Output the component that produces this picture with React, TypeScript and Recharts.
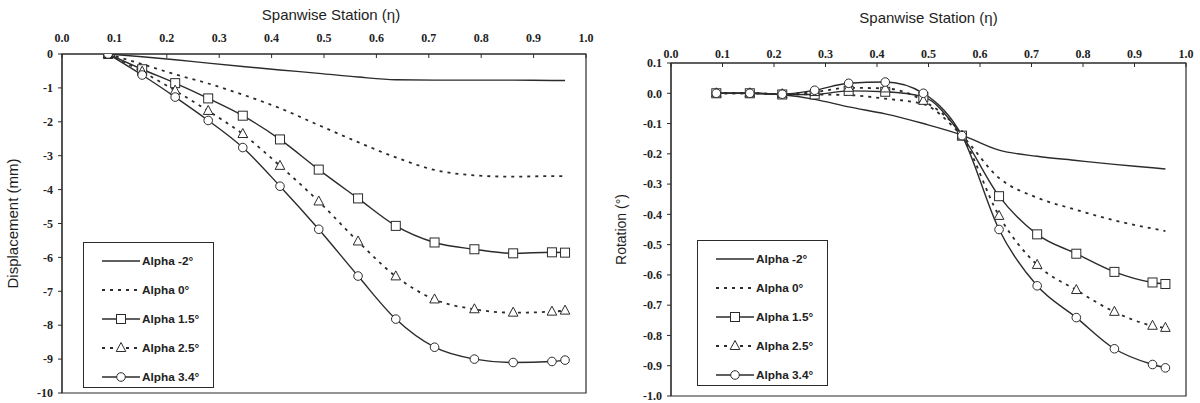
import React from 'react';
import { LineChart, Line, XAxis, YAxis, Legend, Label, ReferenceArea } from 'recharts';

// spanwise stations (eta) where the deflections were measured
const stations = [0.088, 0.153, 0.216, 0.279, 0.345, 0.416, 0.49, 0.565, 0.637, 0.711, 0.787, 0.861, 0.935, 0.96];

const seriesNames = ['Alpha -2°', 'Alpha 0°', 'Alpha 1.5°', 'Alpha 2.5°', 'Alpha 3.4°'];

// displacement (mm)
const dispAlphaM2 = [0, -0.08, -0.17, -0.27, -0.37, -0.47, -0.57, -0.68, -0.76, -0.77, -0.77, -0.77, -0.78, -0.78];
const dispAlpha0 = [0, -0.3, -0.6, -0.87, -1.2, -1.6, -2.1, -2.6, -3.05, -3.42, -3.58, -3.62, -3.6, -3.6];
const dispAlpha15 = [0, -0.45, -0.86, -1.31, -1.82, -2.52, -3.41, -4.26, -5.07, -5.56, -5.76, -5.88, -5.85, -5.86];
const dispAlpha25 = [0, -0.52, -1.08, -1.68, -2.36, -3.3, -4.35, -5.53, -6.56, -7.24, -7.53, -7.63, -7.6, -7.57];
const dispAlpha34 = [0, -0.62, -1.27, -1.96, -2.76, -3.9, -5.17, -6.55, -7.82, -8.65, -9.0, -9.1, -9.07, -9.03];

// rotation (deg)
const rotAlphaM2 = [0, 0, -0.005, -0.02, -0.045, -0.068, -0.1, -0.138, -0.188, -0.208, -0.222, -0.235, -0.246, -0.25];
const rotAlpha0 = [0, 0, -0.003, -0.004, -0.006, -0.018, -0.036, -0.14, -0.28, -0.345, -0.385, -0.42, -0.447, -0.455];
const rotAlpha15 = [0, 0, -0.004, -0.004, 0.008, 0.005, -0.012, -0.14, -0.34, -0.466, -0.53, -0.59, -0.625, -0.63];
const rotAlpha25 = [0, 0, -0.003, 0.004, 0.018, 0.016, -0.025, -0.14, -0.405, -0.567, -0.65, -0.722, -0.768, -0.775];
const rotAlpha34 = [0, 0, -0.003, 0.01, 0.033, 0.037, 0.0, -0.14, -0.45, -0.636, -0.741, -0.844, -0.896, -0.907];

const etaTicks = [0, 0.1, 0.2, 0.3, 0.4, 0.5, 0.6, 0.7, 0.8, 0.9, 1.0];
const dispTicks = [0, -1, -2, -3, -4, -5, -6, -7, -8, -9, -10];
const rotTicks = [0.1, 0, -0.1, -0.2, -0.3, -0.4, -0.5, -0.6, -0.7, -0.8, -0.9, -1.0];

const INK = '#2b2b2b';
const keys = ['m2', 'a0', 'a15', 'a25', 'a34'];
const dashes = [undefined, '3 5', undefined, '3 5', undefined];
const markers = ['none', 'none', 'square', 'triangle', 'circle'];

const buildRows = (cols: number[][]) =>
  stations.map((eta, i) => {
    const row: any = { eta };
    keys.forEach((k, j) => (row[k] = cols[j][i]));
    return row;
  });

const dispData = buildRows([dispAlphaM2, dispAlpha0, dispAlpha15, dispAlpha25, dispAlpha34]);
const rotData = buildRows([rotAlphaM2, rotAlpha0, rotAlpha15, rotAlpha25, rotAlpha34]);

function marker(kind: string, cx: number, cy: number, key?: string) {
  if (kind === 'square')
    return <rect key={key} x={cx - 4.5} y={cy - 4.5} width={9} height={9} fill="#fff" stroke={INK} strokeWidth={1} />;
  if (kind === 'triangle')
    return <path key={key} d={`M${cx},${cy - 5.5}L${cx + 4.8},${cy + 3.5}L${cx - 4.8},${cy + 3.5}Z`} fill="#fff" stroke={INK} strokeWidth={1} />;
  if (kind === 'circle')
    return <circle key={key} cx={cx} cy={cy} r={4.3} fill="#fff" stroke={INK} strokeWidth={1} />;
  return null;
}

const dotFor = (kind: string) =>
  kind === 'none'
    ? false
    : (p: any) => (p.cx == null ? <g key={`e-${p.index}`} /> : marker(kind, p.cx, p.cy, `m-${p.index}`));

const legendContent = (sampleLeft: number) => () => (
  <div style={{ border: `1px solid ${INK}`, background: '#fff', width: 131, height: 146, boxSizing: 'border-box', paddingTop: 3 }}>
    {seriesNames.map((name, i) => (
      <div key={name} style={{ height: 29, display: 'flex', alignItems: 'center', paddingLeft: sampleLeft }}>
        <svg width={40} height={12} style={{ display: 'block' }}>
          <line x1={0} x2={38} y1={6} y2={6} stroke={INK} strokeWidth={i === 1 || i === 3 ? 1.8 : 1.3} strokeDasharray={dashes[i]} />
          {markers[i] === 'none' ? null : marker(markers[i], 19, 6)}
        </svg>
        <span style={{ fontFamily: '"Liberation Sans", Arial, sans-serif', fontWeight: 700, fontSize: 11.8, color: '#222' }}>{name}</span>
      </div>
    ))}
  </div>
);

const tickFont = { fontFamily: '"Liberation Serif", "Times New Roman", serif', fontWeight: 700, fontSize: 12, fill: '#222' };
const titleFont = { fontFamily: '"Liberation Sans", Arial, sans-serif', fontWeight: 400, fontSize: 15, fill: '#1e1e1e' };

function SpanChart(props: {
  data: any[];
  yTicks: number[];
  yDomain: [number, number];
  yTitle: string;
  yTitleSize: number;
  yWidth: number;
  xHeight: number;
  bottom: number;
  tickGap: number;
  titleOffset: number;
  titleDx: number;
  yTitleOffset: number;
  legendPos: { left: number; top: number };
  sampleLeft: number;
  fmt: (v: number) => string;
}) {
  const p = props;
  return (
    <LineChart width={600} height={403} data={p.data} margin={{ top: 24, right: 14, bottom: p.bottom, left: 0 }}>
      <XAxis
        dataKey="eta"
        type="number"
        orientation="top"
        domain={[0, 1]}
        ticks={etaTicks}
        tickFormatter={(v: number) => v.toFixed(1)}
        height={p.xHeight}
        tickSize={-4}
        tickMargin={p.tickGap}
        stroke={INK}
        tick={tickFont}
        allowDataOverflow
      >
        <Label value="Spanwise Station (η)" position="top" offset={p.titleOffset} dx={p.titleDx} style={titleFont} />
      </XAxis>
      <YAxis
        type="number"
        domain={p.yDomain}
        ticks={p.yTicks}
        tickFormatter={p.fmt}
        width={p.yWidth}
        tickSize={4}
        tickMargin={5}
        stroke={INK}
        tick={tickFont}
        allowDataOverflow
      >
        <Label value={p.yTitle} angle={-90} position="insideLeft" offset={p.yTitleOffset} style={{ ...titleFont, fontSize: p.yTitleSize, textAnchor: 'middle' }} />
      </YAxis>
      <ReferenceArea x1={0} x2={1} y1={p.yDomain[0]} y2={p.yDomain[1]} fill="none" stroke={INK} strokeWidth={1.2} />
      {keys.map((k, i) => (
        <Line
          key={k}
          dataKey={k}
          name={seriesNames[i]}
          type="monotone"
          stroke={INK}
          strokeWidth={i === 1 || i === 3 ? 1.8 : 1.4}
          strokeDasharray={dashes[i]}
          dot={dotFor(markers[i])}
          activeDot={false}
          isAnimationActive={false}
        />
      ))}
      <Legend
        layout="vertical"
        align="center"
        verticalAlign="middle"
        wrapperStyle={{ left: p.legendPos.left, top: p.legendPos.top, width: 131, height: 146 }}
        content={legendContent(p.sampleLeft)}
      />
    </LineChart>
  );
}

export default function App() {
  return (
    <div style={{ position: 'absolute', left: 0, top: 0, width: 1200, height: 403, background: '#fff' }}>
      <div style={{ position: 'absolute', left: 0, top: 0 }}>
        <SpanChart
          data={dispData}
          yTicks={dispTicks}
          yDomain={[-10, 0]}
          yTitle="Displacement (mm)"
          yTitleSize={15}
          yWidth={62}
          xHeight={30}
          bottom={10}
          tickGap={16.5}
          titleOffset={4.5}
          titleDx={7}
          yTitleOffset={13}
          legendPos={{ left: 83, top: 242 }}
          sampleLeft={18}
          fmt={(v: number) => String(v)}
        />
      </div>
      <div style={{ position: 'absolute', left: 600, top: 0 }}>
        <SpanChart
          data={rotData}
          yTicks={rotTicks}
          yDomain={[-1, 0.1]}
          yTitle="Rotation (°)"
          yTitleSize={14}
          yWidth={71}
          xHeight={39}
          bottom={7}
          tickGap={9.3}
          titleOffset={1.3}
          titleDx={0}
          yTitleOffset={21}
          legendPos={{ left: 97, top: 240 }}
          sampleLeft={18}
          fmt={(v: number) => v.toFixed(1)}
        />
      </div>
    </div>
  );
}
